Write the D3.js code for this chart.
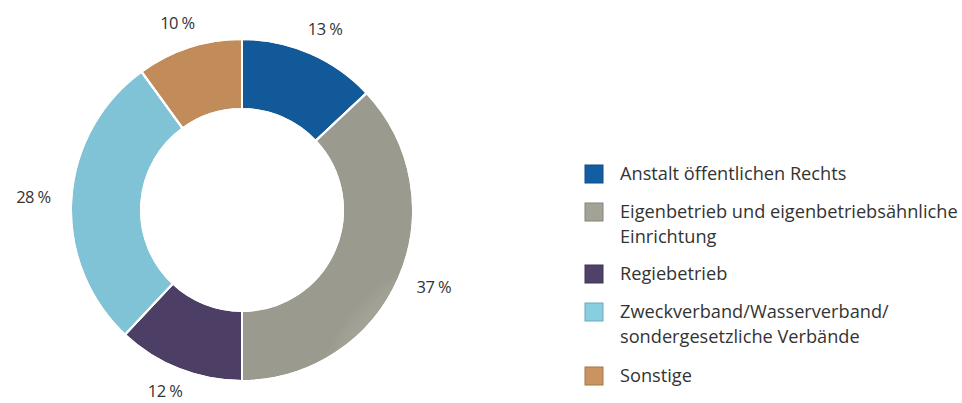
<!DOCTYPE html>
<html><head><meta charset="utf-8">
<script src="https://cdn.jsdelivr.net/npm/d3@7"></script>
<style>html,body{margin:0;padding:0;background:#fff;}svg{display:block;}</style>
</head><body>
<svg id="c" width="962" height="403"></svg>
<script>
const categories = ["Anstalt öffentlichen Rechts", "Eigenbetrieb und eigenbetriebsähnliche Einrichtung", "Regiebetrieb", "Zweckverband/Wasserverband/ sondergesetzliche Verbände", "Sonstige"];
const legendLines = [["Anstalt öffentlichen Rechts"], ["Eigenbetrieb und eigenbetriebsähnliche", "Einrichtung"], ["Regiebetrieb"], ["Zweckverband/Wasserverband/", "sondergesetzliche Verbände"], ["Sonstige"]];
const values = [13, 37, 12, 28, 10];
const colors = ["#135ea2", "#a2a296", "#504169", "#88cde1", "#cb935f"];

const svg = d3.select("#c");
const cx = 242, cy = 210, rOuter = 171, rInner = 101, rLabelX = 209, rLabelY = 196;
const font = "'Open Sans', 'Noto Sans', sans-serif";

const defs = svg.append("defs");
const rg = defs.append("radialGradient").attr("id","shade").attr("gradientUnits","userSpaceOnUse")
  .attr("cx",cx).attr("cy",cy).attr("r",rOuter).attr("fx",cx).attr("fy",cy);
rg.append("stop").attr("offset", rInner/rOuter).attr("stop-color","#fff").attr("stop-opacity",0.10);
rg.append("stop").attr("offset", 0.85).attr("stop-color","#fff").attr("stop-opacity",0);
rg.append("stop").attr("offset", 1).attr("stop-color","#000").attr("stop-opacity",0.05);

const pie = d3.pie().sort(null).value(d => d)(values);
const arc = d3.arc().innerRadius(rInner).outerRadius(rOuter);
const g = svg.append("g").attr("transform", `translate(${cx},${cy})`);
g.selectAll("path.slice").data(pie).join("path").attr("class","slice")
  .attr("d", arc).attr("fill", (d,i) => colors[i])
  .attr("stroke", "#fff").attr("stroke-width", 2);
const shadeG = svg.append("g");
shadeG.selectAll("path").data(pie).join("path")
  .attr("transform", `translate(${cx},${cy})`)
  .attr("d", arc).attr("fill", "url(#shade)")
  .attr("stroke", "#fff").attr("stroke-width", 2);

const mid = d => (d.startAngle + d.endAngle) / 2;
g.selectAll("text.pct").data(pie).join("text").attr("class","pct")
  .attr("x", d => rLabelX * Math.sin(mid(d)))
  .attr("y", d => -rLabelY * Math.cos(mid(d)))
  .attr("text-anchor","middle").attr("dy","0.3em")
  .attr("font-family", font).attr("font-size", 16.5).attr("fill", "#333")
  .attr("letter-spacing", -0.6)
  .text(d => d.data + " %");

// legend
const legX = 585, sq = 18, textX = 620;
const rowTops = [165, 203, 265, 303, 367];
const lg = svg.append("g");
legendLines.forEach((lines, i) => {
  const y0 = rowTops[i];
  lg.append("rect").attr("x", legX).attr("y", y0).attr("width", sq).attr("height", sq)
    .attr("fill", colors[i]).attr("stroke", d3.color(colors[i]).darker(0.6)).attr("stroke-width", 1);
  lines.forEach((t, j) => {
    lg.append("text").attr("x", textX).attr("y", y0 + sq/2 + j*25).attr("dy","0.35em")
      .attr("font-family", font).attr("font-size", 18.2).attr("fill", "#333")
      .text(t);
  });
});
</script>
</body></html>
